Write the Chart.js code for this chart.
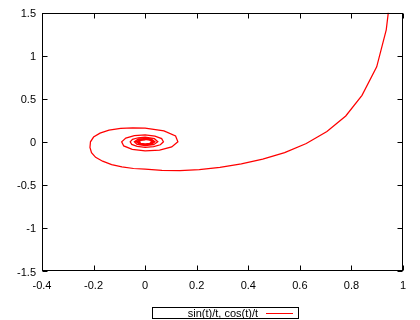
<!DOCTYPE html>
<html><head><meta charset="utf-8">
<script src="https://cdn.jsdelivr.net/npm/chart.js@4/dist/chart.umd.min.js"></script>
<style>html,body{margin:0;padding:0;background:#fff}#wrap{width:420px;height:320px}</style>
</head><body><div id="wrap"><canvas id="c" width="420" height="320"></canvas></div>
<script>
const seriesLabel = 'sin(t)/t, cos(t)/t';
// points of the curve (in order along the curve)
const curveX = [0.943,0.935,0.898,0.841,0.778,0.705,0.625,0.541,0.456,0.373,0.290,0.210,0.135,0.065,0.0,-0.045,-0.09,-0.13,-0.165,-0.192,-0.208,-0.214,-0.212,-0.20,-0.175,-0.14,-0.095,-0.048,0.0,
0.073,0.118,0.127,0.103,0.056,0.0,-0.050,-0.083,-0.091,-0.075,-0.042,0.0,0.038,0.064,0.071,0.059,0.033,0.0,-0.031,-0.052,-0.058,-0.049,-0.027,0.0,
0.036,0.049,0.033,0.0,-0.031,-0.042,-0.029,0.0,0.027,0.038,0.026,0.0,-0.024,-0.034,-0.023,0.0,0.022,0.030,0.021,0.0,-0.020,-0.028,-0.019,0.0,0.018,0.026,0.018,0.0,-0.017,-0.024,-0.016,0.0];
const curveY = [1.50,1.30,0.87,0.54,0.30,0.12,-0.02,-0.126,-0.20,-0.255,-0.297,-0.322,-0.334,-0.333,-0.318,-0.31,-0.29,-0.265,-0.225,-0.18,-0.125,-0.065,0.0,0.055,0.10,0.135,0.155,0.162,0.159,
0.127,0.068,0.0,-0.060,-0.097,-0.106,-0.087,-0.048,0.0,0.043,0.072,0.080,0.066,0.037,0.0,-0.034,-0.057,-0.064,-0.053,-0.030,0.0,0.028,0.047,0.053,
0.036,0.0,-0.033,-0.045,-0.031,0.0,0.029,0.040,0.027,0.0,-0.026,-0.035,-0.024,0.0,0.023,0.032,0.022,0.0,-0.021,-0.029,-0.020,0.0,0.019,0.027,0.018,0.0,-0.018,-0.025,-0.017,0.0,0.016,0.023];
const xTickValues = [-0.4,-0.2,0,0.2,0.4,0.6,0.8,1];
const xTickLabels = ['-0.4','-0.2','0','0.2','0.4','0.6','0.8','1'];
const yTickValues = [-1.5,-1,-0.5,0,0.5,1,1.5];
const yTickLabels = ['-1.5','-1','-0.5','0','0.5','1','1.5'];

const points = curveX.map((x, i) => ({x: x, y: curveY[i]}));
const FONT = {family: "'Liberation Sans', Arial, sans-serif", size: 11};

const framePlugin = {
  id: 'frame',
  afterDraw(chart) {
    const {ctx, chartArea: a, scales: {x, y}} = chart;
    ctx.save();
    ctx.strokeStyle = '#000';
    ctx.lineWidth = 1;
    const L = Math.round(a.left) + 0.5, R = Math.round(a.right) - 0.5;
    const T = Math.round(a.top) + 0.5, B = Math.round(a.bottom) - 0.5;
    ctx.strokeRect(L, T, R - L, B - T);
    ctx.beginPath();
    const tl = 5;
    xTickValues.forEach(v => {
      const p = Math.round(x.getPixelForValue(v)) + 0.5;
      ctx.moveTo(p, B); ctx.lineTo(p, B - tl);
      ctx.moveTo(p, T); ctx.lineTo(p, T + tl);
    });
    yTickValues.forEach(v => {
      const p = Math.round(y.getPixelForValue(v)) + 0.5;
      ctx.moveTo(L, p); ctx.lineTo(L + tl, p);
      ctx.moveTo(R, p); ctx.lineTo(R - tl, p);
    });
    ctx.stroke();
    // key box
    ctx.strokeRect(152.5, 307.5, 146, 11);
    ctx.fillStyle = '#000';
    ctx.font = "11px 'Liberation Sans', Arial, sans-serif";
    ctx.textAlign = 'right';
    ctx.textBaseline = 'alphabetic';
    ctx.fillText(seriesLabel, 258, 317);
    ctx.strokeStyle = '#ff0000';
    ctx.beginPath();
    ctx.moveTo(266, 313.5); ctx.lineTo(293, 313.5);
    ctx.stroke();
    ctx.restore();
  }
};

new Chart(document.getElementById('c'), {
  type: 'scatter',
  data: {
    datasets: [{
      label: seriesLabel,
      data: points,
      showLine: true,
      borderColor: '#ff0000',
      backgroundColor: '#ff0000',
      borderWidth: 1.25,
      pointRadius: 0,
      tension: 0
    }]
  },
  options: {
    responsive: false,
    animation: false,
    devicePixelRatio: 1,
    layout: {padding: {left: 0, right: 17, top: 12, bottom: 0}},
    plugins: {legend: {display: false}, tooltip: {enabled: false}},
    scales: {
      x: {
        type: 'linear', min: -0.4, max: 1,
        afterBuildTicks: s => { s.ticks = xTickValues.map(v => ({value: v})); },
        afterFit: s => { s.height = 49; },
        ticks: {callback: (v, i) => xTickLabels[i], font: FONT, color: '#000', padding: 8, maxRotation: 0, autoSkip: false},
        grid: {display: false, drawTicks: false},
        border: {display: false}
      },
      y: {
        type: 'linear', min: -1.5, max: 1.5,
        afterBuildTicks: s => { s.ticks = yTickValues.map(v => ({value: v})); },
        afterFit: s => { s.width = 42; },
        ticks: {callback: (v, i) => yTickLabels[i], font: FONT, color: '#000', padding: 6, labelOffset: 1.5, autoSkip: false},
        grid: {display: false, drawTicks: false},
        border: {display: false}
      }
    }
  },
  plugins: [framePlugin]
});
</script></body></html>
